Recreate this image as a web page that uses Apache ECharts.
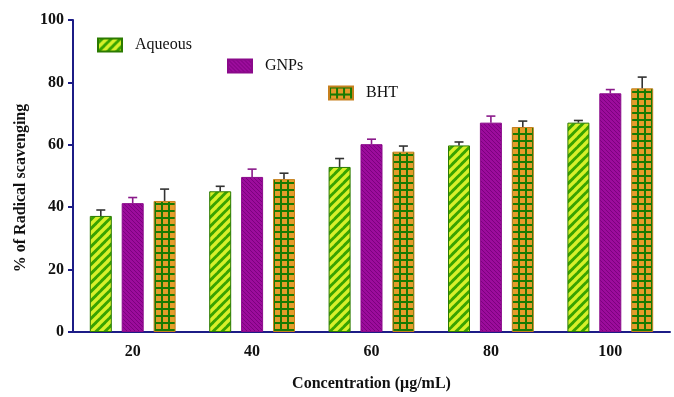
<!DOCTYPE html>
<html>
<head>
<meta charset="utf-8">
<script src="https://cdn.jsdelivr.net/npm/echarts@6/dist/echarts.min.js"></script>
<style>
html,body{margin:0;padding:0;background:#fff;}
#chart{width:674px;height:397px;}
</style>
</head>
<body>
<div id="chart"></div>
<script>
var categories = ['20', '40', '60', '80', '100'];
var aqueous    = [37.2, 45.1, 52.9, 59.8, 67.1];
var aqueousErr = [1.9, 1.6, 2.7, 1.1, 0.7];
var gnps       = [41.3, 49.7, 60.2, 67.1, 76.5];
var gnpsErr    = [1.8, 2.5, 1.6, 2.1, 1.2];
var bht        = [42.0, 49.0, 57.8, 65.7, 78.1];
var bhtErr     = [3.8, 1.9, 1.8, 1.9, 3.6];
var yTicks     = [0, 20, 40, 60, 80, 100];

var FONT = '"Liberation Serif", "Times New Roman", serif';
var AXIS = '#1c1c86';

function tile(w, h, draw) {
  var c = document.createElement('canvas');
  c.width = w; c.height = h;
  draw(c.getContext('2d'), w, h);
  return c;
}
var stripePat = tile(9, 9, function (g, w, h) {
  g.fillStyle = '#38a300'; g.fillRect(0, 0, w, h);
  g.strokeStyle = '#d8f02a'; g.lineWidth = 3.4;
  for (var k = -1; k <= 1; k++) {
    g.beginPath(); g.moveTo(k * w - 1, h + 1); g.lineTo(k * w + w + 1, -1); g.stroke();
  }
});
var purplePat = tile(4, 4, function (g, w, h) {
  g.fillStyle = '#9c0c9c'; g.fillRect(0, 0, w, h);
  g.strokeStyle = '#78007a'; g.lineWidth = 0.9;
  for (var k = -1; k <= 1; k++) {
    g.beginPath(); g.moveTo(k * w - 1, -1); g.lineTo(k * w + w + 1, h + 1); g.stroke();
  }
});
var gridPat = tile(7, 7, function (g, w, h) {
  g.fillStyle = '#177a02'; g.fillRect(0, 0, w, h);
  g.fillStyle = '#e59c2a'; g.fillRect(2, 2, 5, 5);
  g.fillStyle = '#177a02'; g.fillRect(0, 0, w, 2); g.fillRect(0, 0, 2, h);
  g.fillStyle = '#e59c2a'; g.fillRect(2, 2, 4.5, 4.5);
});

var BAR_W = 22, BAR_GAP = 0.45;
var OFFSET = BAR_W * (1 + BAR_GAP);

function errSeries(name, vals, errs, shift, color) {
  var data = vals.map(function (v, i) { return [i, v, errs[i]]; });
  return {
    type: 'custom', name: name + ' err', silent: true, z: 3,
    data: data,
    renderItem: function (params, api) {
      var i = api.value(0), v = api.value(1), e = api.value(2);
      var p0 = api.coord([i, v]);
      var p1 = api.coord([i, v + e]);
      var x = p0[0] + shift;
      var st = { stroke: color, lineWidth: 1.6 };
      return {
        type: 'group',
        children: [
          { type: 'line', shape: { x1: x, y1: p0[1], x2: x, y2: p1[1] }, style: st },
          { type: 'line', shape: { x1: x - 4.5, y1: p1[1], x2: x + 4.5, y2: p1[1] }, style: st }
        ]
      };
    }
  };
}

var legendBase = {
  orient: 'horizontal', padding: 0, itemWidth: 24, itemHeight: 13, icon: 'rect',
  textStyle: { fontFamily: FONT, fontSize: 16, color: '#111', padding: [0, 0, 0, 8] }
};

var chart = echarts.init(document.getElementById('chart'), null, { renderer: 'canvas' });
chart.setOption({
  animation: false,
  backgroundColor: '#ffffff',
  grid: { left: 73, right: 4, top: 20, bottom: 64 },
  legend: [
    Object.assign({}, legendBase, { data: ['Aqueous'], left: 97, top: 37 }),
    Object.assign({}, legendBase, { data: ['GNPs'], left: 227, top: 58 }),
    Object.assign({}, legendBase, { data: ['BHT'], left: 328, top: 85 })
  ],
  xAxis: {
    type: 'category', data: categories,
    name: 'Concentration (μg/mL)', nameLocation: 'middle', nameGap: 44,
    nameTextStyle: { fontFamily: FONT, fontSize: 16, fontWeight: 'bold', color: '#111' },
    axisLine: { lineStyle: { color: AXIS, width: 2 } },
    axisTick: { alignWithLabel: true, length: 5, lineStyle: { color: AXIS, width: 2 } },
    axisLabel: { fontFamily: FONT, fontSize: 16, fontWeight: 'bold', color: '#111', margin: 12 }
  },
  yAxis: {
    type: 'value', min: yTicks[0], max: yTicks[yTicks.length - 1], interval: 20,
    name: '% of Radical scavenging', nameLocation: 'middle', nameGap: 40,
    nameTextStyle: { fontFamily: FONT, fontSize: 16, fontWeight: 'bold', color: '#111', padding: [0, 24, 0, 0] },
    axisLine: { show: true, lineStyle: { color: AXIS, width: 2 } },
    axisTick: { show: true, length: 5, lineStyle: { color: AXIS, width: 2 } },
    axisLabel: { fontFamily: FONT, fontSize: 16, fontWeight: 'bold', color: '#111', margin: 9 },
    splitLine: { show: false }
  },
  series: [
    { name: 'Aqueous', type: 'bar', data: aqueous, barWidth: BAR_W, barGap: (BAR_GAP * 100) + '%',
      itemStyle: { color: { image: stripePat, repeat: 'repeat' }, borderColor: '#2b7a00', borderWidth: 1 } },
    { name: 'GNPs', type: 'bar', data: gnps, barWidth: BAR_W, barGap: (BAR_GAP * 100) + '%',
      itemStyle: { color: { image: purplePat, repeat: 'repeat' }, borderColor: '#8a0a8a', borderWidth: 1 } },
    { name: 'BHT', type: 'bar', data: bht, barWidth: BAR_W, barGap: (BAR_GAP * 100) + '%',
      itemStyle: { color: { image: gridPat, repeat: 'repeat' }, borderColor: '#c7801e', borderWidth: 1 } },
    errSeries('Aqueous', aqueous, aqueousErr, -OFFSET, '#333333'),
    errSeries('GNPs', gnps, gnpsErr, 0, '#8a1a8a'),
    errSeries('BHT', bht, bhtErr, OFFSET, '#333333')
  ]
});
</script>
</body>
</html>
